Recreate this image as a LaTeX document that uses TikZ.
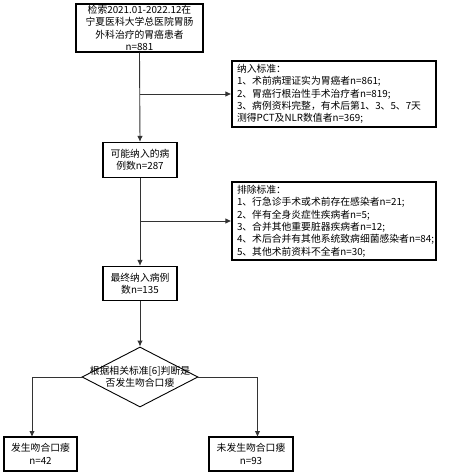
\documentclass[tikz,border=0pt]{standalone}
\usepackage{fontspec}
\setmainfont{Noto Sans CJK SC}
\usetikzlibrary{shapes.geometric,arrows.meta}
\begin{document}
\begin{tikzpicture}[x=1pt,y=-1pt,
  every node/.style={font=\fontsize{9.8}{12.4}\selectfont},
  box/.style={draw=black,line width=1.2pt,inner sep=0pt,align=center},
  lbox/.style={draw=black,line width=1.2pt,inner sep=0pt,align=left,text width=194pt},
  conn/.style={draw=black!80,line width=0.9pt},
  arr/.style={conn,-{Latex[length=6pt,width=5.5pt]}},
  dia/.style={draw=black,line width=0.9pt,diamond,inner sep=0pt,minimum width=116pt,minimum height=60pt}]
\useasboundingbox (0,0) rectangle (448,476);
\node[box,minimum width=127pt,minimum height=48pt] (b1) at (139.5,28)
  {检索2021.01-2022.12在\\宁夏医科大学总医院胃肠\\外科治疗的胃癌患者\\n=881};
\node[lbox,minimum width=204pt,minimum height=66pt] (b2) at (334,94)
  {纳入标准：\\1、术前病理证实为胃癌者n=861;\\2、胃癌行根治性手术治疗者n=819;\\3、病例资料完整，有术后第1、3、5、7天\\测得PCT及NLR数值者n=369;};
\node[box,minimum width=74pt,minimum height=35pt] (b3) at (140,160)
  {可能纳入的病\\例数n=287};
\node[lbox,minimum width=204pt,minimum height=78pt] (b4) at (334,221)
  {排除标准：\\1、行急诊手术或术前存在感染者n=21;\\2、伴有全身炎症性疾病者n=5;\\3、合并其他重要脏器疾病者n=12;\\4、术后合并有其他系统致病细菌感染者n=84;\\5、其他术前资料不全者n=30;};
\node[box,minimum width=74pt,minimum height=34pt] (b5) at (140,283.5)
  {最终纳入病例\\数n=135};
\node[dia] (d) at (140,377) {};
\node[align=center,inner sep=0pt] (dt) at (d.center) {根据相关标准[6]判断是\\否发生吻合口瘘};
\node[box,minimum width=73pt,minimum height=34pt] (b6) at (40.5,454)
  {发生吻合口瘘\\n=42};
\node[box,minimum width=84pt,minimum height=34pt] (b7) at (251,454)
  {未发生吻合口瘘\\n=93};
\coordinate (c6) at (32,437);
\coordinate (c7) at (257.5,437);
\draw[arr] (b1.south) -- (b3.north);
\draw[arr] (b1.south |- b2.west) -- (b2.west);
\draw[arr] (b3.south) -- (b5.north);
\draw[arr] (b3.south |- b4.west) -- (b4.west);
\draw[arr] (b5.south) -- (d.north);
\draw[arr] (d.west) -| (c6);
\draw[arr] (d.east) -| (c7);
\end{tikzpicture}
\end{document}
